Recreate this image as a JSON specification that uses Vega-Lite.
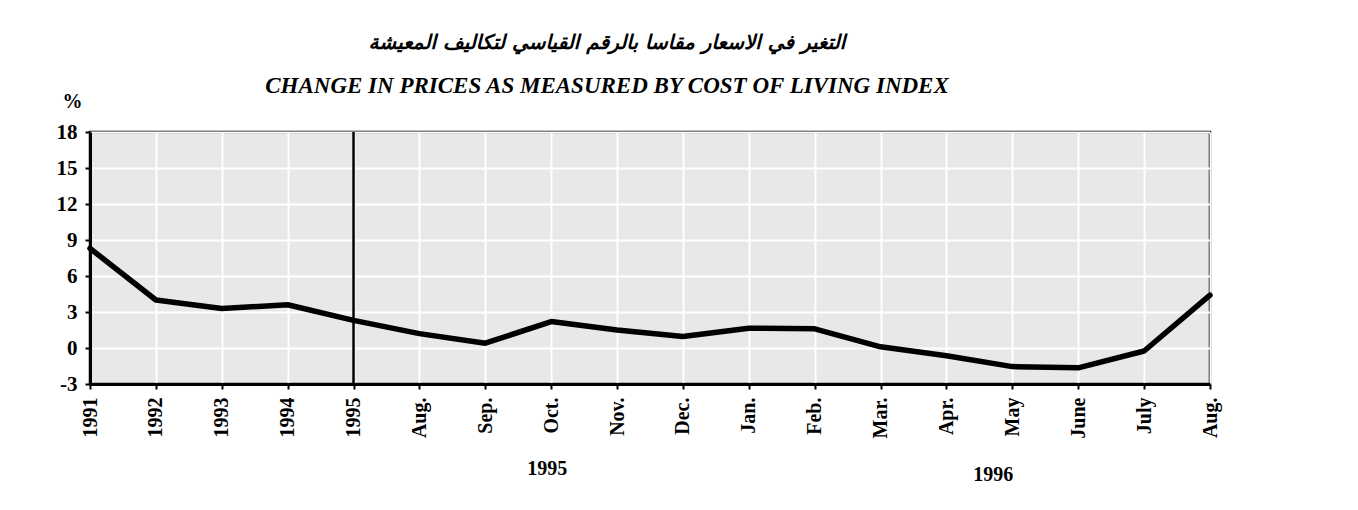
{
  "$schema": "https://vega.github.io/schema/vega-lite/v6.json",
  "width": 1120,
  "height": 252,
  "autosize": "none",
  "padding": {"left": 90, "top": 132, "right": 148, "bottom": 126},
  "background": "white",
  "title": {
    "text": "التغير في الاسعار مقاسا بالرقم القياسي لتكاليف المعيشة",
    "subtitle": "CHANGE IN PRICES AS MEASURED BY COST OF LIVING INDEX",
    "anchor": "middle",
    "dx": -43,
    "offset": -7,
    "font": "DejaVu Sans",
    "fontSize": 20,
    "fontWeight": "bold",
    "fontStyle": "italic",
    "color": "black",
    "subtitleFont": "Liberation Serif",
    "subtitleFontSize": 23,
    "subtitleFontWeight": "bold",
    "subtitleFontStyle": "italic",
    "subtitleColor": "black",
    "subtitlePadding": 22
  },
  "datasets": {
    "series": [
      {"period": "1991", "change": 8.3},
      {"period": "1992", "change": 4.0},
      {"period": "1993", "change": 3.3},
      {"period": "1994", "change": 3.6},
      {"period": "1995", "change": 2.3},
      {"period": "Aug. 1995", "change": 1.2},
      {"period": "Sep. 1995", "change": 0.4},
      {"period": "Oct. 1995", "change": 2.2},
      {"period": "Nov. 1995", "change": 1.5},
      {"period": "Dec. 1995", "change": 0.95},
      {"period": "Jan. 1996", "change": 1.65},
      {"period": "Feb. 1996", "change": 1.6},
      {"period": "Mar. 1996", "change": 0.1},
      {"period": "Apr. 1996", "change": -0.65},
      {"period": "May 1996", "change": -1.55},
      {"period": "June 1996", "change": -1.65},
      {"period": "July 1996", "change": -0.25},
      {"period": "Aug. 1996", "change": 4.4}
    ],
    "years": [
      {"period": "Oct. 1995", "label": "1995"},
      {"period": "May 1996", "label": "1996"}
    ]
  },
  "layer": [
    {
      "data": {"name": "series"},
      "mark": {"type": "line", "color": "black", "strokeWidth": 5.5, "strokeJoin": "round", "strokeCap": "round"},
      "encoding": {
        "x": {
          "field": "period",
          "type": "ordinal",
          "sort": null,
          "scale": {
            "type": "point",
            "padding": 0,
            "domain": ["1991", "1992", "1993", "1994", "1995", "Aug. 1995", "Sep. 1995", "Oct. 1995", "Nov. 1995", "Dec. 1995", "Jan. 1996", "Feb. 1996", "Mar. 1996", "Apr. 1996", "May 1996", "June 1996", "July 1996", "Aug. 1996"]
          },
          "axis": {
            "title": null,
            "labelAngle": -90,
            "labelAlign": "right",
            "labelBaseline": "middle",
            "labelExpr": "split(datum.value, ' ')[0]",
            "labelFont": "Liberation Serif",
            "labelFontSize": 20,
            "labelFontWeight": "bold",
            "labelColor": "black",
            "labelPadding": 8,
            "labelOverlap": false,
            "tickSize": 5,
            "tickWidth": 2,
            "tickColor": "black",
            "domainColor": "black",
            "domainWidth": 3,
            "grid": true,
            "gridColor": "white",
            "gridWidth": 2
          }
        },
        "y": {
          "field": "change",
          "type": "quantitative",
          "scale": {"domain": [-3, 18], "nice": false, "zero": false},
          "axis": {
            "values": [-3, 0, 3, 6, 9, 12, 15, 18],
            "tickCount": 20,
            "labelExpr": "datum.value + ''",
            "title": "%",
            "titleAngle": 0,
            "titleX": -18,
            "titleY": -31,
            "titleAlign": "center",
            "titleBaseline": "middle",
            "titleFont": "Liberation Serif",
            "titleFontSize": 20,
            "titleFontWeight": "bold",
            "titleColor": "black",
            "labelFont": "Liberation Serif",
            "labelFontSize": 21,
            "labelFontWeight": "bold",
            "labelColor": "black",
            "labelPadding": 8,
            "labelOverlap": false,
            "labelFlush": false,
            "tickSize": 5,
            "tickWidth": 2,
            "tickColor": "black",
            "domainColor": "black",
            "domainWidth": 3,
            "grid": true,
            "gridColor": "white",
            "gridWidth": 2
          }
        }
      }
    },
    {
      "data": {"name": "series"},
      "transform": [{"filter": "datum.period == '1995'"}],
      "mark": {"type": "rule", "color": "black", "strokeWidth": 2.5},
      "encoding": {"x": {"field": "period", "type": "ordinal"}}
    },
    {
      "data": {"name": "years"},
      "transform": [{"filter": "datum.label == '1995'"}],
      "mark": {"type": "text", "font": "Liberation Serif", "fontSize": 20, "fontWeight": "bold", "color": "black", "baseline": "middle", "align": "center", "dx": -4},
      "encoding": {
        "x": {"field": "period", "type": "ordinal"},
        "y": {"datum": -10.1},
        "text": {"field": "label"}
      }
    },
    {
      "data": {"name": "years"},
      "transform": [{"filter": "datum.label == '1996'"}],
      "mark": {"type": "text", "font": "Liberation Serif", "fontSize": 20, "fontWeight": "bold", "color": "black", "baseline": "middle", "align": "center", "dx": -19},
      "encoding": {
        "x": {"field": "period", "type": "ordinal"},
        "y": {"datum": -10.6},
        "text": {"field": "label"}
      }
    }
  ],
  "config": {
    "view": {"fill": "#e8e8e8", "stroke": "black", "strokeWidth": 2.5}
  }
}
